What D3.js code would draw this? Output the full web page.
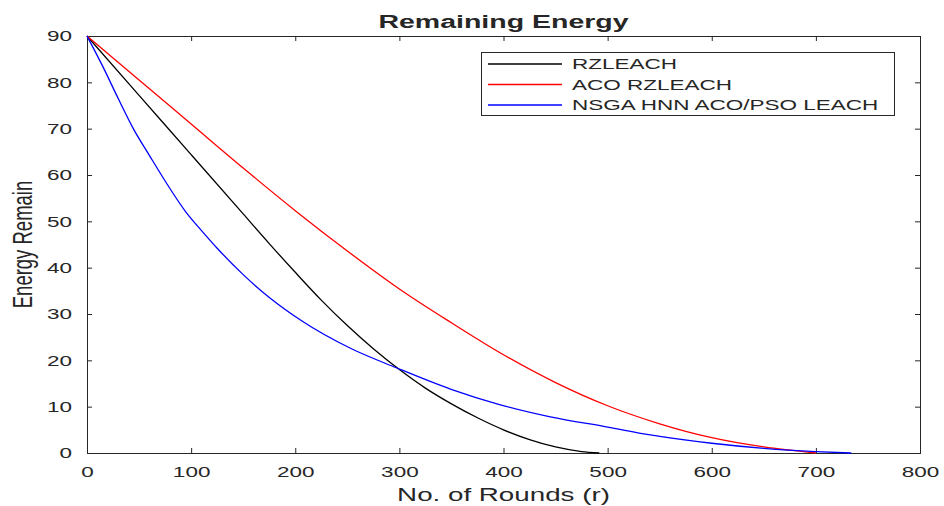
<!DOCTYPE html>
<html>
<head>
<meta charset="utf-8">
<script src="https://cdn.jsdelivr.net/npm/d3@7"></script>
<style>
  body { margin: 0; background: #fff; }
  text { font-family: "Liberation Sans", Arial, sans-serif; fill: #262626; }
</style>
</head>
<body>
<div id="chart"></div>
<script>
// Data
var xTicks = [0, 100, 200, 300, 400, 500, 600, 700, 800];
var yTicks = [0, 10, 20, 30, 40, 50, 60, 70, 80, 90];

var rzRounds = [0, 50, 100, 150, 175, 200, 225, 250, 275, 300, 325, 350, 375, 400, 425, 450, 475, 492];
var rzEnergy = [90, 77.2, 64.4, 51.6, 45.2, 39, 33, 27.5, 22.5, 18, 14, 10.6, 7.6, 5, 2.9, 1.3, 0.3, 0];

var acoRounds = [0, 50, 100, 150, 200, 250, 300, 350, 400, 450, 500, 550, 600, 650, 700];
var acoEnergy = [90, 80.5, 71, 61.5, 52.3, 43.6, 35.4, 28.1, 21.2, 15.2, 10.2, 6.3, 3.3, 1.3, 0];

var nsgaRounds = [0, 15, 30, 45, 60, 77, 95, 110, 125, 150, 176, 205, 253, 297, 349, 397, 445, 500, 541, 600, 650, 700, 734];
var nsgaEnergy = [90, 83.5, 76.5, 69.8, 64.2, 58, 52, 48, 44.2, 38.5, 33.4, 28.7, 22.6, 18.4, 13.8, 10.4, 7.8, 5.6, 3.9, 2.1, 1, 0.3, 0];

var seriesNames = ["RZLEACH", "ACO RZLEACH", "NSGA HNN ACO/PSO LEACH"];
var seriesColors = ["#000000", "#ff0000", "#0000ff"];

const w = 944;
const h = 506;
const plotLeft = 87, plotRight = 920, plotTop = 36, plotBottom = 453;
const sx = 1.5; // text in the picture is stretched sideways

var xScale = d3.scaleLinear().domain([0, 800]).range([plotLeft, plotRight]);
var yScale = d3.scaleLinear().domain([0, 90]).range([plotBottom, plotTop]);

var svg = d3.select("#chart")
    .append("svg")
    .attr("width", w)
    .attr("height", h);

// axes, ticks point inward
var xAxis = svg.append("g")
    .attr("transform", "translate(0," + plotBottom + ")")
    .call(d3.axisBottom(xScale).tickValues(xTicks).tickSizeInner(-5).tickSizeOuter(0).tickPadding(13));
var xTop = svg.append("g")
    .attr("transform", "translate(0," + plotTop + ")")
    .call(d3.axisTop(xScale).tickValues(xTicks).tickSizeInner(-5).tickSizeOuter(0).tickFormat(""));
var yAxis = svg.append("g")
    .attr("transform", "translate(" + plotLeft + ",0)")
    .call(d3.axisLeft(yScale).tickValues(yTicks).tickSizeInner(-5).tickSizeOuter(0).tickPadding(10));
var yRight = svg.append("g")
    .attr("transform", "translate(" + plotRight + ",0)")
    .call(d3.axisRight(yScale).tickValues(yTicks).tickSizeInner(-5).tickSizeOuter(0).tickFormat(""));

[xAxis, xTop, yAxis, yRight].forEach(function (g) {
    g.selectAll("path").attr("stroke", "#262626");
    g.selectAll("line").attr("stroke", "#262626");
    g.selectAll("text")
        .attr("font-size", 15)
        .attr("font-family", "'Liberation Sans', Arial, sans-serif")
        .attr("fill", "#262626")
        .attr("transform", "scale(" + sx + ",1)");
});

// frame
svg.append("rect")
    .attr("x", plotLeft + 0.5)
    .attr("y", plotTop + 0.5)
    .attr("width", plotRight - plotLeft)
    .attr("height", plotBottom - plotTop)
    .attr("fill", "none")
    .attr("stroke", "#262626");

// lines
var line = d3.line()
    .x(function (d) { return xScale(d[0]); })
    .y(function (d) { return yScale(d[1]); })
    .curve(d3.curveMonotoneX);

var allSeries = [
    d3.zip(rzRounds, rzEnergy),
    d3.zip(acoRounds, acoEnergy),
    d3.zip(nsgaRounds, nsgaEnergy)
];

svg.selectAll(".series")
    .data(allSeries)
    .enter()
    .append("path")
    .attr("class", "series")
    .attr("d", line)
    .attr("fill", "none")
    .attr("stroke", function (d, i) { return seriesColors[i]; })
    .attr("stroke-width", 1.3);

// title
svg.append("text")
    .attr("transform", "translate(" + ((plotLeft + plotRight) / 2) + ",28) scale(" + sx + ",1)")
    .attr("text-anchor", "middle")
    .attr("font-size", 19)
    .attr("font-weight", "bold")
    .attr("fill", "#000")
    .text("Remaining Energy");

// x label
svg.append("text")
    .attr("transform", "translate(" + ((plotLeft + plotRight) / 2) + ",501) scale(" + sx + ",1)")
    .attr("text-anchor", "middle")
    .attr("font-size", 18.5)
    .text("No. of Rounds (r)");

// y label
svg.append("text")
    .attr("transform", "translate(32," + ((plotTop + plotBottom) / 2) + ") scale(" + sx + ",1) rotate(-90)")
    .attr("text-anchor", "middle")
    .attr("font-size", 18.5)
    .text("Energy Remain");

// legend
var legend = svg.append("g");
legend.append("rect")
    .attr("x", 481.5)
    .attr("y", 52.5)
    .attr("width", 413)
    .attr("height", 63)
    .attr("fill", "#fff")
    .attr("stroke", "#262626");

var rows = legend.selectAll(".row")
    .data(seriesNames)
    .enter()
    .append("g")
    .attr("class", "row")
    .attr("transform", function (d, i) { return "translate(0," + (64 + i * 20.5) + ")"; });

rows.append("line")
    .attr("x1", 488)
    .attr("x2", 562)
    .attr("stroke", function (d, i) { return seriesColors[i]; })
    .attr("stroke-width", 1.3);

rows.append("text")
    .attr("transform", "translate(572,0) scale(" + sx + ",1)")
    .attr("dy", "0.35em")
    .attr("font-size", 15)
    .attr("fill", "#000")
    .text(function (d) { return d; });
</script>
</body>
</html>
